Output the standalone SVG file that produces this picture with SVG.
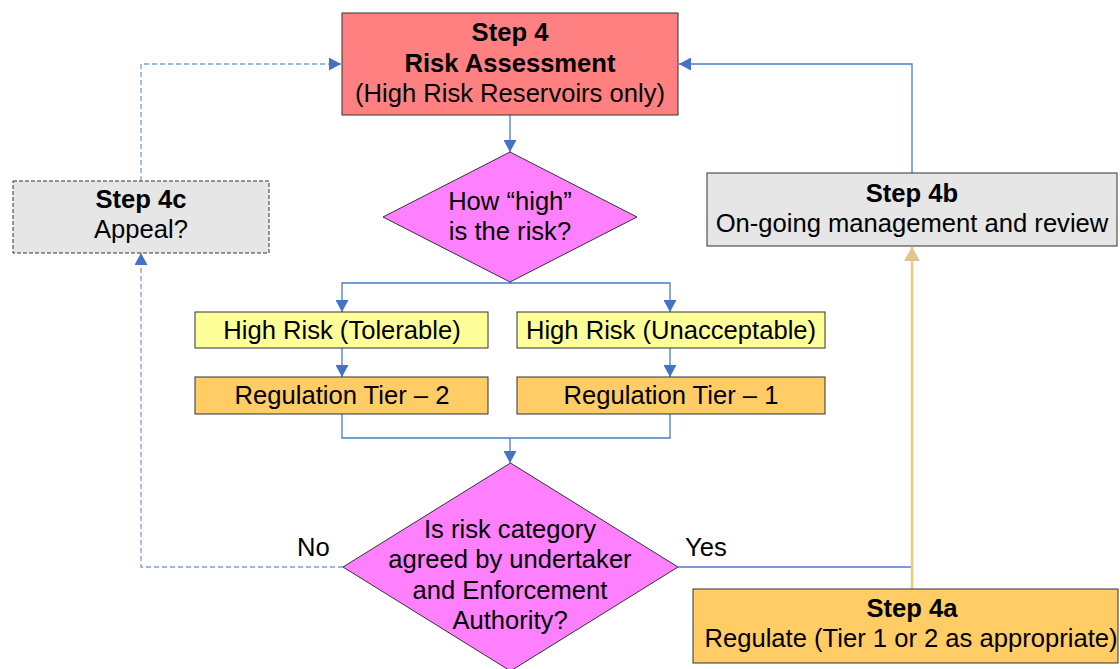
<svg xmlns="http://www.w3.org/2000/svg" width="1120" height="669" viewBox="0 0 1120 669">
  <style>
    .box { stroke: #333333; stroke-width: 1; }
    .t { font-family: "Liberation Sans", Arial, sans-serif; font-size: 25.6px; fill: #000; text-anchor: middle; }
    .b { font-weight: bold; }
    .lbl { font-family: "Liberation Sans", Arial, sans-serif; font-size: 25.6px; fill: #000; }
    .wire { fill: none; stroke: #4A7CC6; stroke-width: 1.3; }
    .dash { fill: none; stroke: #7A9ED8; stroke-width: 1.3; stroke-dasharray: 5 3; }
    .tan { fill: none; stroke: #F2C77E; stroke-width: 2.5; }
  </style>
  <defs>
    <marker id="arrow" markerWidth="12" markerHeight="13" viewBox="0 0 12 13" refX="12" refY="6.5" orient="auto" markerUnits="userSpaceOnUse">
      <path d="M0,0 L12,6.5 L0,13 Z" fill="#4472C4"/>
    </marker>
    <marker id="arrowTan" markerWidth="14" markerHeight="16" viewBox="0 0 14 16" refX="14" refY="8" orient="auto" markerUnits="userSpaceOnUse">
      <path d="M0,0 L14,8 L0,16 Z" fill="#E3C48A"/>
    </marker>
  </defs>

  <!-- connectors -->
  <g id="connectors">
    <path class="wire" d="M510,115 V152" marker-end="url(#arrow)"/>
    <path class="wire" d="M510,282 V283 H342 V312" marker-end="url(#arrow)"/>
    <path class="wire" d="M510,283 H670 V312" marker-end="url(#arrow)"/>
    <path class="wire" d="M342,348 V377" marker-end="url(#arrow)"/>
    <path class="wire" d="M670,348 V377" marker-end="url(#arrow)"/>
    <path class="wire" d="M342,414 V438 H670 V414"/>
    <path class="wire" d="M510,438 V463" marker-end="url(#arrow)"/>
    <path class="wire" d="M678,567 H912"/>
    <path class="wire" d="M912,173 V64 H679" marker-end="url(#arrow)"/>
    <path class="dash" d="M343,567 H141 V253" marker-end="url(#arrow)"/>
    <path class="dash" d="M141,181 V64 H341" marker-end="url(#arrow)"/>
    <path class="tan" d="M912,589 V247" marker-end="url(#arrowTan)"/>
  </g>

  <g id="step4">
    <rect class="box" x="342" y="13" width="336" height="102" fill="#FF8080"/>
    <text class="t b" x="510" y="41">Step 4</text>
    <text class="t b" x="510" y="72">Risk Assessment</text>
    <text class="t" x="510" y="102">(High Risk Reservoirs only)</text>
  </g>

  <g id="how-high">
    <polygon class="box" points="510,152 637,217 510,282 383,217" fill="#FF80FF"/>
    <text class="t" x="510" y="210">How “high”</text>
    <text class="t" x="510" y="240">is the risk?</text>
  </g>

  <g id="tolerable">
    <rect class="box" x="195" y="312" width="293" height="36" fill="#FFFF99"/>
    <text class="t" x="342" y="339">High Risk (Tolerable)</text>
  </g>

  <g id="unacceptable">
    <rect class="box" x="517" y="312" width="308" height="36" fill="#FFFF99"/>
    <text class="t" x="671" y="339">High Risk (Unacceptable)</text>
  </g>

  <g id="tier2">
    <rect class="box" x="195" y="377" width="293" height="37" fill="#FFCC66"/>
    <text class="t" x="342" y="404">Regulation Tier – 2</text>
  </g>

  <g id="tier1">
    <rect class="box" x="517" y="377" width="308" height="37" fill="#FFCC66"/>
    <text class="t" x="671" y="404">Regulation Tier – 1</text>
  </g>

  <g id="agreed">
    <polygon class="box" points="510.5,463 678,567 510.5,671 343,567" fill="#FF80FF"/>
    <text class="t" x="510" y="538">Is risk category</text>
    <text class="t" x="510" y="568">agreed by undertaker</text>
    <text class="t" x="510" y="599">and Enforcement</text>
    <text class="t" x="510" y="629">Authority?</text>
  </g>

  <text class="lbl" x="297" y="556">No</text>
  <text class="lbl" x="685" y="556">Yes</text>

  <g id="step4c">
    <rect class="box" x="13" y="181" width="256" height="72" fill="#E6E6E6" stroke-dasharray="4 2"/>
    <text class="t b" x="141" y="208">Step 4c</text>
    <text class="t" x="141" y="238">Appeal?</text>
  </g>

  <g id="step4b">
    <rect class="box" x="707" y="173" width="410" height="73" fill="#E6E6E6"/>
    <text class="t b" x="912" y="202">Step 4b</text>
    <text class="t" x="912" y="232">On-going management and review</text>
  </g>

  <g id="step4a">
    <rect class="box" x="693" y="589" width="425" height="74" fill="#FFCC66"/>
    <text class="t b" x="912" y="617">Step 4a</text>
    <text class="t" x="911" y="647">Regulate (Tier 1 or 2 as appropriate)</text>
  </g>
</svg>
